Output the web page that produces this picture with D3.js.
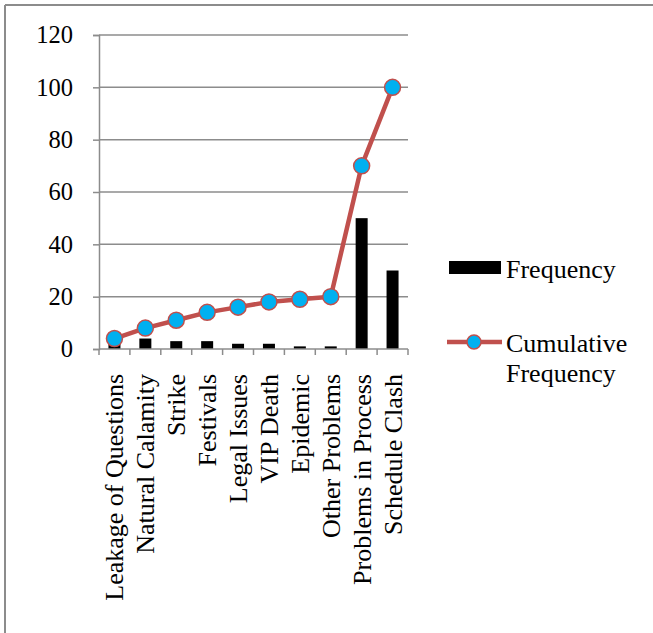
<!DOCTYPE html>
<html>
<head>
<meta charset="utf-8">
<script src="https://cdn.jsdelivr.net/npm/d3@7"></script>
<style>
  html, body { margin: 0; padding: 0; background: #fff; }
  svg { display: block; }
  text { font-family: "Liberation Serif", "Times New Roman", serif; fill: #000; }
</style>
</head>
<body>
<svg id="chart" width="653" height="633"></svg>
<script>
// Exam disruption causes, frequency and cumulative frequency (Pareto)
const categories = [
  "Leakage of Questions", "Natural Calamity", "Strike", "Festivals",
  "Legal Issues", "VIP Death", "Epidemic", "Other Problems",
  "Problems in Process", "Schedule Clash"
];
const frequency = [4, 4, 3, 3, 2, 2, 1, 1, 50, 30];
const cumulative = [4, 8, 11, 14, 16, 18, 19, 20, 70, 100];
const yTicks = [0, 20, 40, 60, 80, 100, 120];

const svg = d3.select("#chart");
const gridColor = "#8c8c8c";
const lineColor = "#C0504D";
const markerFill = "#00B0F0";
const labelSize = 26;
const tickSize = 24.5;

// chart frame
svg.append("line").attr("x1", 5).attr("x2", 653).attr("y1", 5).attr("y2", 5)
  .attr("stroke", gridColor).attr("stroke-width", 2);
svg.append("line").attr("x1", 5).attr("x2", 5).attr("y1", 5).attr("y2", 633)
  .attr("stroke", gridColor).attr("stroke-width", 2);

const x = d3.scaleBand().domain(categories).range([99, 408]).padding(0);
const y = d3.scaleLinear().domain([0, 120]).range([349, 35]);

// horizontal gridlines
svg.append("g").selectAll("line").data(yTicks.filter(d => d > 0)).join("line")
  .attr("x1", 99).attr("x2", 408)
  .attr("y1", d => y(d)).attr("y2", d => y(d))
  .attr("stroke", gridColor).attr("stroke-width", 1.5);

// y axis
const yAxis = svg.append("g").attr("transform", "translate(99,0)")
  .call(d3.axisLeft(y).tickValues(yTicks).tickSize(6).tickPadding(20));
yAxis.select(".domain").attr("stroke", gridColor).attr("stroke-width", 1.5);
yAxis.selectAll(".tick line").attr("stroke", gridColor).attr("stroke-width", 1.5);
yAxis.selectAll(".tick text").attr("font-size", tickSize)
  .attr("font-family", "Liberation Serif, serif").attr("fill", "#000");

// frequency bars
const barW = 12;
svg.append("g").selectAll("rect").data(categories).join("rect")
  .attr("x", d => x(d) + x.bandwidth() / 2 - barW / 2)
  .attr("width", barW)
  .attr("y", (d, i) => y(frequency[i]))
  .attr("height", (d, i) => y(0) - y(frequency[i]))
  .attr("fill", "#000");

// x axis with boundary ticks
const xg = svg.append("g");
xg.append("line").attr("x1", 99).attr("x2", 408).attr("y1", y(0)).attr("y2", y(0))
  .attr("stroke", gridColor).attr("stroke-width", 1.5);
const bounds = categories.map(c => x(c)).concat([x(categories[categories.length - 1]) + x.bandwidth()]);
xg.selectAll("line.tk").data(bounds).join("line").attr("class", "tk")
  .attr("x1", d => d).attr("x2", d => d)
  .attr("y1", y(0)).attr("y2", y(0) + 6)
  .attr("stroke", gridColor).attr("stroke-width", 1.5);
xg.selectAll("text").data(categories).join("text")
  .attr("transform", d => `translate(${x(d) + x.bandwidth() / 2 + 9},374) rotate(-90)`)
  .attr("text-anchor", "end")
  .attr("font-size", labelSize)
  .text(d => d);

// cumulative frequency line with markers
const line = d3.line()
  .x((d, i) => x(categories[i]) + x.bandwidth() / 2)
  .y(d => y(d));
svg.append("path").datum(cumulative)
  .attr("d", line).attr("fill", "none")
  .attr("stroke", lineColor).attr("stroke-width", 4.5)
  .attr("stroke-linejoin", "round");
svg.append("g").selectAll("circle").data(cumulative).join("circle")
  .attr("cx", (d, i) => x(categories[i]) + x.bandwidth() / 2)
  .attr("cy", d => y(d))
  .attr("r", 8)
  .attr("fill", markerFill).attr("stroke", lineColor).attr("stroke-width", 1.5);

// legend
const lg = svg.append("g");
lg.append("rect").attr("x", 449).attr("y", 261).attr("width", 52).attr("height", 13).attr("fill", "#000");
lg.append("text").attr("x", 506).attr("y", 278).attr("font-size", labelSize).text("Frequency");
lg.append("line").attr("x1", 447).attr("x2", 502).attr("y1", 342).attr("y2", 342)
  .attr("stroke", lineColor).attr("stroke-width", 4.5);
lg.append("circle").attr("cx", 474).attr("cy", 342).attr("r", 7)
  .attr("fill", markerFill).attr("stroke", lineColor).attr("stroke-width", 1.5);
lg.append("text").attr("x", 506).attr("y", 352).attr("font-size", labelSize).text("Cumulative");
lg.append("text").attr("x", 506).attr("y", 382).attr("font-size", labelSize).text("Frequency");
</script>
</body>
</html>
